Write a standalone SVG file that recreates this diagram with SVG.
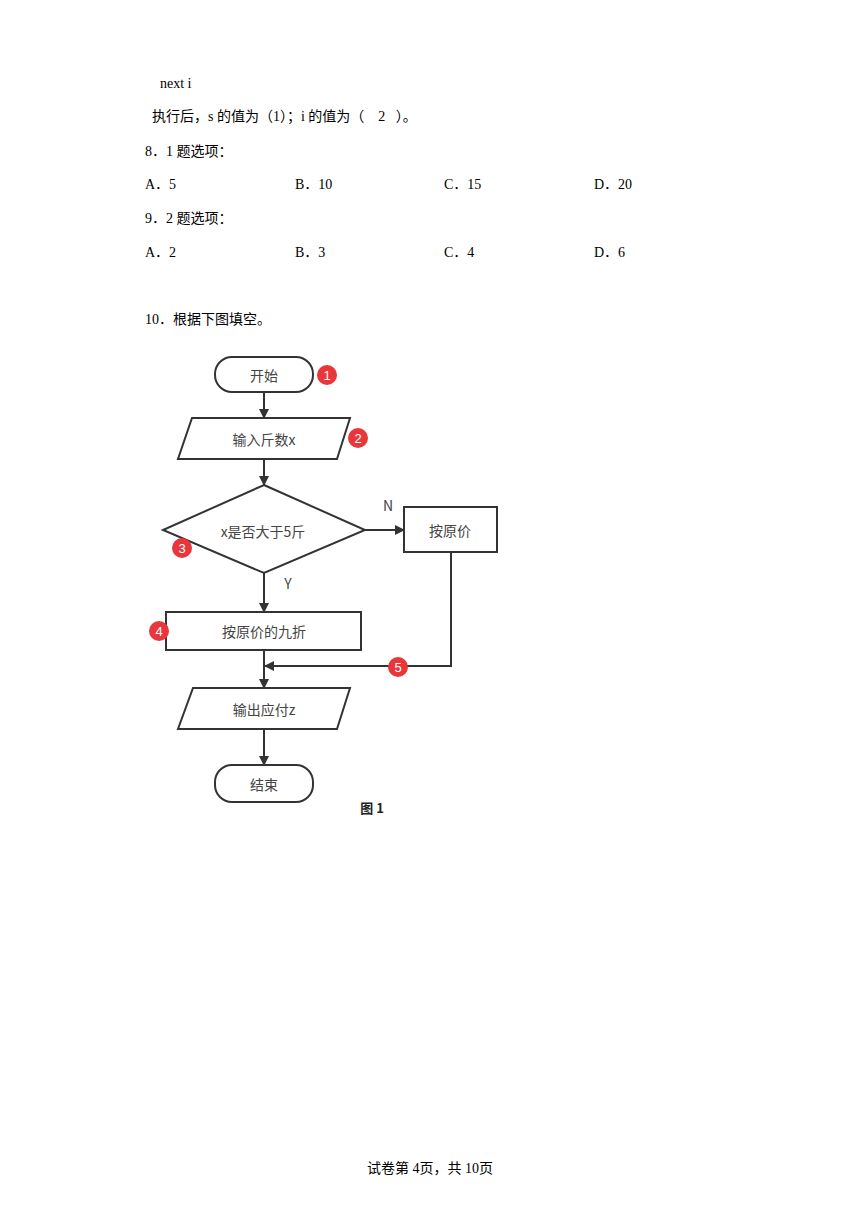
<svg xmlns="http://www.w3.org/2000/svg" width="860" height="1216" viewBox="0 0 860 1216">
<style>
.t{font-family:"Liberation Serif","Noto Sans CJK SC",serif;font-size:14px;fill:#000;white-space:pre}
.n{fill:#fff;stroke:#333;stroke-width:2}
.l{font-family:"Noto Sans CJK SC","Liberation Sans",sans-serif;font-size:14px;fill:#444;text-anchor:middle;dominant-baseline:central}
.c{fill:none;stroke:#333;stroke-width:2}
.b{fill:#e8363a}
.bt{font-family:"Liberation Sans",Arial,sans-serif;font-size:13px;fill:#fff;text-anchor:middle;dominant-baseline:central}
</style>
<defs>
<marker id="ah" markerWidth="10" markerHeight="10" refX="9" refY="5" orient="auto" markerUnits="userSpaceOnUse"><path d="M0,0 L10,5 L0,10 z" fill="#333"/></marker>
</defs>
<rect width="860" height="1216" fill="#fff"/>
<g id="text">
<text class="t" x="160" y="88">next i</text>
<text class="t" x="152" y="121" xml:space="preserve">执行后，s 的值为（1）；i 的值为（&#160;&#160;&#160;&#160;2&#160;&#160;&#160;）。</text>
<text class="t" x="145" y="156">8．1 题选项：</text>
<text class="t" x="145" y="189">A．5</text>
<text class="t" x="295" y="189">B．10</text>
<text class="t" x="444" y="189">C．15</text>
<text class="t" x="594" y="189">D．20</text>
<text class="t" x="145" y="223">9．2 题选项：</text>
<text class="t" x="145" y="257">A．2</text>
<text class="t" x="295" y="257">B．3</text>
<text class="t" x="444" y="257">C．4</text>
<text class="t" x="594" y="257">D．6</text>
<text class="t" x="145" y="324">10．根据下图填空。</text>
<text class="t" x="430" y="1173" text-anchor="middle">试卷第 4页，共 10页</text>
<text x="372" y="813" text-anchor="middle" style="font-family:'Noto Sans CJK SC',sans-serif;font-size:13px;font-weight:bold;fill:#222">图 1</text>
</g>
<g id="connectors">
<line class="c" x1="264" y1="392" x2="264" y2="418" marker-end="url(#ah)"/>
<line class="c" x1="264" y1="459" x2="264" y2="485" marker-end="url(#ah)"/>
<line class="c" x1="365" y1="530" x2="404" y2="530" marker-end="url(#ah)"/>
<line class="c" x1="264" y1="573" x2="264" y2="612" marker-end="url(#ah)"/>
<line class="c" x1="264" y1="650" x2="264" y2="688" marker-end="url(#ah)"/>
<polyline class="c" points="451,552 451,666 265,666" marker-end="url(#ah)"/>
<line class="c" x1="264" y1="729" x2="264" y2="765" marker-end="url(#ah)"/>
<text x="388" y="505" class="l">N</text>
<text x="288" y="583" class="l">Y</text>
</g>
<g id="start">
<rect class="n" x="215" y="357" width="98" height="35" rx="17"/>
<text class="l" x="264" y="375">开始</text>
</g>
<g id="input">
<polygon class="n" points="192,418 350,418 337,459 178,459"/>
<text class="l" x="264" y="439">输入斤数x</text>
</g>
<g id="decision">
<polygon class="n" points="264,485 365,530 264,573 163,530"/>
<text class="l" x="263" y="531">x是否大于5斤</text>
</g>
<g id="orig">
<rect class="n" x="404" y="507" width="93" height="45"/>
<text class="l" x="450" y="530">按原价</text>
</g>
<g id="discount">
<rect class="n" x="166" y="612" width="195" height="38"/>
<text class="l" x="264" y="631">按原价的九折</text>
</g>
<g id="output">
<polygon class="n" points="193,688 350,688 337,729 178,729"/>
<text class="l" x="264" y="709">输出应付z</text>
</g>
<g id="end">
<rect class="n" x="215" y="765" width="98" height="37" rx="17"/>
<text class="l" x="264" y="784">结束</text>
</g>
<g id="badge1"><circle class="b" cx="327" cy="375" r="10"/><text class="bt" x="327" y="375">1</text></g>
<g id="badge2"><circle class="b" cx="358" cy="438" r="10"/><text class="bt" x="358" y="438">2</text></g>
<g id="badge3"><circle class="b" cx="182" cy="548" r="10"/><text class="bt" x="182" y="548">3</text></g>
<g id="badge4"><circle class="b" cx="159" cy="631" r="10"/><text class="bt" x="159" y="631">4</text></g>
<g id="badge5"><circle class="b" cx="398" cy="667" r="10"/><text class="bt" x="398" y="667">5</text></g>
</svg>
